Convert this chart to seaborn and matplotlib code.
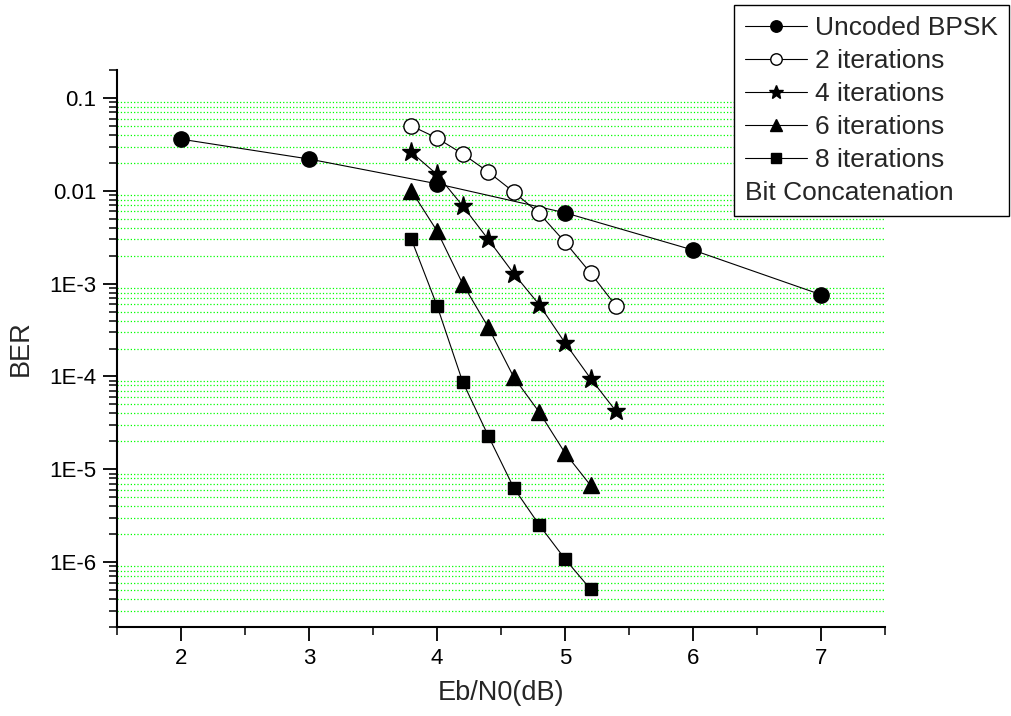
import numpy as np
import pandas as pd
import matplotlib
matplotlib.use("Agg")
import matplotlib.pyplot as plt
import seaborn as sns
from matplotlib.ticker import LogLocator, FixedLocator, MultipleLocator, FixedFormatter, NullFormatter

# values
ebn0_uncoded = [2, 3, 4, 5, 6, 7]
ber_uncoded = [0.036, 0.022, 0.0119, 0.0058, 0.0023, 0.00076]

ebn0_2it = [3.8, 4.0, 4.2, 4.4, 4.6, 4.8, 5.0, 5.2, 5.4]
ber_2it = [0.050, 0.037, 0.025, 0.016, 0.0097, 0.0057, 0.0028, 0.0013, 0.00057]

ebn0_4it = [3.8, 4.0, 4.2, 4.4, 4.6, 4.8, 5.0, 5.2, 5.4]
ber_4it = [0.026, 0.015, 0.0069, 0.0030, 0.00128, 0.00059, 0.00023, 9.5e-5, 4.2e-5]

ebn0_6it = [3.8, 4.0, 4.2, 4.4, 4.6, 4.8, 5.0, 5.2]
ber_6it = [0.010, 0.0037, 0.0010, 0.00034, 9.8e-5, 4.1e-5, 1.5e-5, 6.7e-6]

ebn0_8it = [3.8, 4.0, 4.2, 4.4, 4.6, 4.8, 5.0, 5.2]
ber_8it = [0.0030, 0.00058, 8.8e-5, 2.3e-5, 6.3e-6, 2.5e-6, 1.08e-6, 5.1e-7]

series_names = ["Uncoded BPSK", "2 iterations", "4 iterations", "6 iterations", "8 iterations"]
series_x = [ebn0_uncoded, ebn0_2it, ebn0_4it, ebn0_6it, ebn0_8it]
series_y = [ber_uncoded, ber_2it, ber_4it, ber_6it, ber_8it]
markers = ["o", "o", "*", "^", "s"]
face_colors = ["black", "white", "black", "black", "black"]
marker_sizes = [11, 11, 14, 11, 9]

y_tick_vals = [1e-6, 1e-5, 1e-4, 1e-3, 0.01, 0.1]
y_tick_labels = ["1E-6", "1E-5", "1E-4", "1E-3", "0.01", "0.1"]
legend_note = "Bit Concatenation"

sns.set_style("ticks")
plt.rcParams["font.family"] = ["Liberation Sans", "DejaVu Sans"]

fig = plt.figure(figsize=(10.11, 7.16), dpi=100)
ax = fig.add_axes([0.1157, 0.1243, 0.7597, 0.7779])

for name, xs, ys, mk, fc, ms in zip(series_names, series_x, series_y, markers, face_colors, marker_sizes):
    df = pd.DataFrame({"EbN0": xs, "BER": ys})
    sns.lineplot(data=df, x="EbN0", y="BER", ax=ax, color="black", linewidth=0.8,
                 marker=mk, markersize=ms, markerfacecolor=fc, markeredgecolor="black",
                 markeredgewidth=1.0, label=name, zorder=3)

handles, labels = ax.get_legend_handles_labels()
if ax.get_legend() is not None:
    ax.get_legend().remove()

ax.set_yscale("log")
ax.set_xlim(1.5, 7.5)
ax.set_ylim(2e-7, 0.2)

# y ticks in Origin style
ax.yaxis.set_major_locator(FixedLocator(y_tick_vals))
ax.yaxis.set_major_formatter(FixedFormatter(y_tick_labels))
ax.yaxis.set_minor_locator(LogLocator(base=10, subs=np.arange(2, 10), numticks=20))
ax.yaxis.set_minor_formatter(NullFormatter())

ax.xaxis.set_major_locator(MultipleLocator(1))
ax.xaxis.set_minor_locator(MultipleLocator(0.5))

ax.tick_params(axis="both", which="major", direction="out", length=10, width=1.3,
               labelsize=16, colors="black", pad=5)
ax.tick_params(axis="both", which="minor", direction="out", length=6, width=1.3)
ax.grid(False)
ax.grid(True, which="minor", axis="y", color="#00ff00", linestyle=":", linewidth=0.9)

for s in ["top", "right"]:
    ax.spines[s].set_visible(False)
for s in ["left", "bottom"]:
    ax.spines[s].set_linewidth(1.5)
    ax.spines[s].set_color("black")

ax.set_xlabel("Eb/N0(dB)", fontsize=19.5)
ax.set_ylabel("BER", fontsize=19.5)
ax.xaxis.set_label_coords(0.5, -0.095)
ax.yaxis.set_label_coords(-0.108, 0.5)

# last legend row carries only text; keep a short placeholder so the box width
# follows the longest series label, then write the note at the handle column
blank = plt.Line2D([], [], linestyle="none", marker=None)
leg_fs = 19
leg_pad = 0.42
leg = fig.legend(handles + [blank], labels + ["Bit"], loc="upper right",
                 bbox_to_anchor=(0.998, 0.993), fontsize=leg_fs, frameon=True,
                 fancybox=False, edgecolor="black", framealpha=1,
                 handlelength=2.35, handletextpad=0.3, borderpad=leg_pad,
                 labelspacing=0.34, markerscale=0.75, borderaxespad=0)
leg.get_frame().set_linewidth(1.0)
leg.set_zorder(10)

fig.canvas.draw()
# no dotted line on the top edge of the plot area
ylo, yhi = ax.get_ylim()
for t in ax.yaxis.get_minor_ticks():
    loc = t.get_loc()
    if abs(np.log10(loc) - np.log10(yhi)) < 0.01 or abs(np.log10(loc) - np.log10(ylo)) < 0.01:
        t.gridline.set_visible(False)

placeholder = leg.get_texts()[-1]
note_bb = placeholder.get_window_extent()
placeholder.set_visible(False)
frame_bb = leg.get_frame().get_window_extent()
note_x = frame_bb.x0 + leg_pad * leg_fs * fig.dpi / 72
fig.text(note_x / fig.bbox.width, note_bb.y0 / fig.bbox.height, legend_note,
         fontsize=leg_fs, ha="left", va="bottom", zorder=11)

fig.savefig("out.png", dpi=100)
